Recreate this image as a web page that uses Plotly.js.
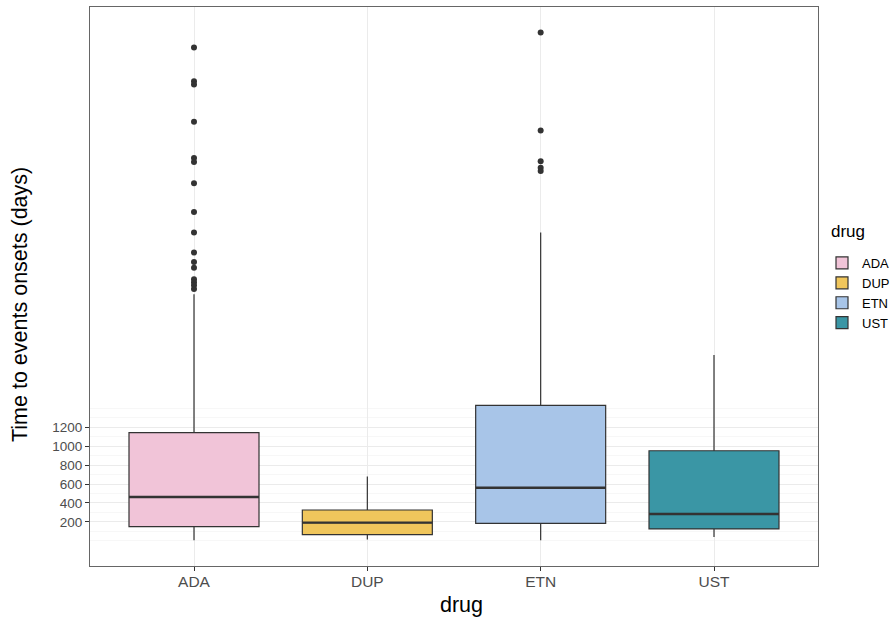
<!DOCTYPE html>
<html>
<head>
<meta charset="utf-8">
<script src="https://cdn.plot.ly/plotly-3.0.1.min.js"></script>
<style>html,body{margin:0;padding:0;background:#fff;}#chart{width:893px;height:618px;}</style>
</head>
<body>
<div id="chart"></div>
<script>
const categories = ['ADA', 'DUP', 'ETN', 'UST'];
const q1 = [151, 66, 185, 126];
const medians = [463, 193, 561, 284];
const q3 = [1143, 326, 1429, 951];
const lowerWhisker = [6, 14, 6, 42];
const upperWhisker = [2603, 680, 3253, 1961];
const outliersADA = [5206, 4848, 4814, 4421, 4038, 3996, 3772, 3469, 3253, 3042, 2943, 2880, 2761, 2729, 2698, 2656];
const outliersDUP = [];
const outliersETN = [5364, 4329, 4006, 3937, 3901];
const outliersUST = [];
const outliers = [outliersADA, outliersDUP, outliersETN, outliersUST];
const yTickVals = [200, 400, 600, 800, 1000, 1200];
const yMinorVals = [0, 100, 300, 500, 700, 900, 1100, 1300, 1400];
const fillColors = ['#F1C4D8', '#F0C65C', '#A8C5E8', '#3A96A5'];

const boxWidth = 0.75;
const font = 'Liberation Sans, Arial, sans-serif';
const traces = [];

categories.forEach((c, i) => {
  traces.push({
    type: 'box',
    name: c,
    x: [i + 1],
    q1: [q1[i]],
    median: [medians[i]],
    q3: [q3[i]],
    lowerfence: [lowerWhisker[i]],
    upperfence: [upperWhisker[i]],
    width: boxWidth,
    whiskerwidth: 0,
    boxpoints: false,
    fillcolor: fillColors[i],
    line: {color: '#333333', width: 1.2},
    hoverinfo: 'skip'
  });
});

// thicker median lines
const mx = [], my = [];
categories.forEach((c, i) => {
  mx.push(i + 1 - boxWidth / 2, i + 1 + boxWidth / 2, null);
  my.push(medians[i], medians[i], null);
});
traces.push({
  type: 'scatter', mode: 'lines', x: mx, y: my,
  line: {color: '#333333', width: 2.4},
  showlegend: false, hoverinfo: 'skip'
});

// outliers
categories.forEach((c, i) => {
  if (!outliers[i].length) return;
  traces.push({
    type: 'scatter', mode: 'markers',
    x: outliers[i].map(() => i + 1),
    y: outliers[i],
    marker: {color: '#333333', size: 6},
    showlegend: false, hoverinfo: 'skip'
  });
});

const layout = {
  width: 893, height: 618,
  margin: {l: 90, r: 75, t: 7, b: 52},
  paper_bgcolor: '#ffffff', plot_bgcolor: '#ffffff',
  font: {family: font, color: '#000'},
  showlegend: true,
  xaxis: {
    range: [0.4, 4.6],
    tickmode: 'array',
    tickvals: categories.map((c, i) => i + 1),
    ticktext: categories,
    showgrid: true, gridcolor: '#EBEBEB', gridwidth: 1,
    zeroline: false,
    showline: true, mirror: true, linecolor: '#666666', linewidth: 1,
    ticks: 'outside', ticklen: 4, tickcolor: '#333333', tickwidth: 1,
    ticklabelstandoff: -3,
    tickfont: {size: 15.5, color: '#4D4D4D', family: font}
  },
  yaxis: {
    range: [-265, 5632],
    tickmode: 'array',
    tickvals: yTickVals,
    showgrid: true, gridcolor: '#EBEBEB', gridwidth: 1,
    minor: {tickmode: 'array', tickvals: yMinorVals, showgrid: true, gridcolor: '#F3F3F3', gridwidth: 0.7, ticks: ''},
    zeroline: false,
    showline: true, mirror: true, linecolor: '#666666', linewidth: 1,
    ticks: 'outside', ticklen: 4, tickcolor: '#333333', tickwidth: 1,
    tickfont: {size: 13.5, color: '#4D4D4D', family: font}
  },
  annotations: [
    {text: 'Time to events onsets (days)', xref: 'paper', yref: 'paper',
     x: -70 / 728, y: (566 - 305) / 559, xanchor: 'center', yanchor: 'middle',
     textangle: -90, showarrow: false, font: {size: 21.5, color: '#000', family: font}},
    {text: 'drug', xref: 'paper', yref: 'paper',
     x: (461 - 90) / 728, y: -(605 - 566) / 559, xanchor: 'center', yanchor: 'middle',
     showarrow: false, font: {size: 21.5, color: '#000', family: font}},
    {text: 'drug', xref: 'paper', yref: 'paper',
     x: (829 - 90) / 728, y: (566 - 232) / 559, xanchor: 'left', yanchor: 'middle',
     showarrow: false, font: {size: 17, color: '#000', family: font}}
  ],
  legend: {
    font: {size: 13, color: '#000', family: font},
    xref: 'container', yref: 'container',
    x: 822 / 893, xanchor: 'left',
    y: 1 - 248 / 618, yanchor: 'top',
    bgcolor: 'rgba(0,0,0,0)',
    traceorder: 'normal'
  }
};

Plotly.newPlot('chart', traces, layout, {displayModeBar: false, staticPlot: true});
</script>
</body>
</html>
